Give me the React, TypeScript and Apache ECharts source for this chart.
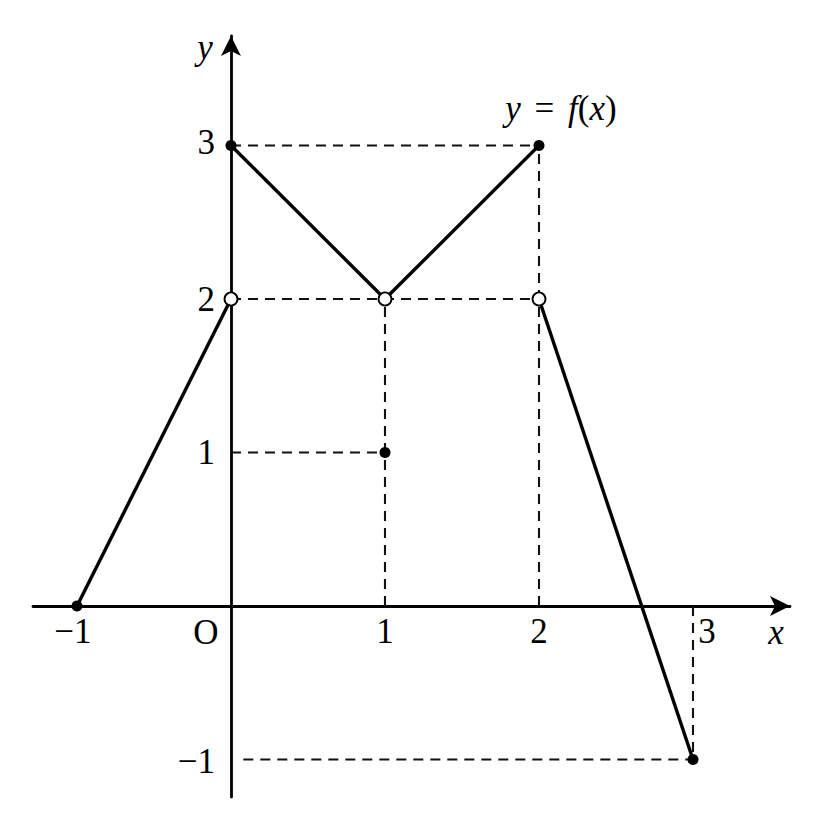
import React, { useEffect, useRef } from "react";
import * as echarts from "echarts";

// ---- data ----
// solid pieces of the graph of y = f(x)
const pieceA: [number, number][] = [[-1, 0], [0, 2]];
const pieceB: [number, number][] = [[0, 3], [1, 2], [2, 3]];
const pieceC: [number, number][] = [[2, 2], [3, -1]];
// filled (included) points and open (excluded) points
const filledPoints: [number, number][] = [[-1, 0], [0, 3], [1, 1], [2, 3], [3, -1]];
const openPoints: [number, number][] = [[0, 2], [1, 2], [2, 2]];
// dashed guide segments
const guides: [number, number][][] = [
  [[0, 3], [2, 3]],
  [[0, 2], [2, 2]],
  [[0, 1], [1, 1]],
  [[1, 0], [1, 2]],
  [[2, 0], [2, 3]],
  [[3, 0], [3, -1]],
  [[0.08, -1], [3, -1]],
];
// tick labels
const xTickValues = [-1, 1, 2, 3];
const xTickLabels = ["−1", "1", "2", "3"];
const yTickValues = [3, 2, 1, -1];
const yTickLabels = ["3", "2", "1", "−1"];
const originLabel = "O";
const xAxisName = "x";
const yAxisName = "y";
// visible axis extent (values)
const xRange = [-1.2857, 3.6299];
const yRange = [-1.2443, 3.7134];

const FONT = "'Liberation Serif', 'DejaVu Serif', serif";

export default function App() {
  const ref = useRef<HTMLDivElement>(null);
  useEffect(() => {
    if (!ref.current) return;
    const chart = echarts.init(ref.current, null, { renderer: "svg" });
    const solid = { color: "#000", width: 3.4, opacity: 1 };
    const lineSeries = (data: [number, number][]) => ({
      type: "line",
      data,
      symbol: "none",
      lineStyle: solid,
      z: 3,
      silent: true,
    });
    const labelStyle = { fontFamily: FONT, fontSize: 35, color: "#000" };
    const axisLine = {
      show: true,
      onZero: true,
      lineStyle: { color: "#000", width: 2.8 },
      symbol: ["none", "arrow"],
      symbolSize: [15, 20],
    };
    const option: any = {
      animation: false,
      backgroundColor: "#fff",
      grid: { left: 33, right: 30, top: 36, bottom: 23, containLabel: false },
      xAxis: {
        type: "value",
        min: xRange[0],
        max: xRange[1],
        axisLine,
        axisTick: { show: false },
        axisLabel: { show: false },
        splitLine: { show: false },
      },
      yAxis: {
        type: "value",
        min: yRange[0],
        max: yRange[1],
        axisLine,
        axisTick: { show: false },
        axisLabel: { show: false },
        splitLine: { show: false },
      },
      series: [
        ...guides.map((g) => ({
          type: "line",
          data: g,
          symbol: "none",
          lineStyle: { color: "#111", width: 2.1, type: [10, 7], opacity: 1 },
          z: 2,
          silent: true,
        })),
        lineSeries(pieceA),
        lineSeries(pieceB),
        lineSeries(pieceC),
        {
          type: "scatter",
          data: filledPoints,
          symbol: "circle",
          symbolSize: 11,
          itemStyle: { color: "#000", opacity: 1 },
          z: 5,
        },
        {
          type: "scatter",
          data: openPoints,
          symbol: "circle",
          symbolSize: 13,
          itemStyle: { color: "#fff", borderColor: "#000", borderWidth: 1.8, opacity: 1 },
          z: 6,
        },
        // x tick labels
        {
          type: "scatter",
          symbolSize: 0,
          itemStyle: { opacity: 1 },
          data: xTickValues.map((v, i) => ({
            value: [v, 0],
            label: {
              show: true,
              formatter: xTickLabels[i],
              position: "inside",
              offset: [v === -1 ? -4 : v === 3 ? 14 : 0, 25],
              ...labelStyle,
            },
          })),
          z: 7,
        },
        // y tick labels
        {
          type: "scatter",
          symbolSize: 0,
          itemStyle: { opacity: 1 },
          data: yTickValues.map((v, i) => ({
            value: [0, v],
            label: {
              show: true,
              formatter: yTickLabels[i],
              position: "inside",
              align: "right",
              offset: [-16, v === 3 ? -3 : v === -1 ? 2 : 0],
              ...labelStyle,
            },
          })),
          z: 7,
        },
        // origin, axis names, curve name
        {
          type: "scatter",
          symbolSize: 0,
          itemStyle: { opacity: 1 },
          data: [
            { value: [0, 0], label: { show: true, formatter: originLabel, position: "inside", offset: [-25, 26], ...labelStyle } },
            { value: [xRange[1], 0], label: { show: true, formatter: xAxisName, position: "inside", offset: [-14, 26], ...labelStyle, fontStyle: "italic" } },
            { value: [0, yRange[1]], label: { show: true, formatter: yAxisName, position: "inside", offset: [-26, 11], ...labelStyle, fontStyle: "italic" } },
            {
              value: [2, 3],
              label: {
                show: true,
                formatter: "{i|y} {s|=} {i|f}({i|x})",
                position: "inside",
                offset: [22, -37],
                ...labelStyle,
                rich: {
                  i: { ...labelStyle, fontStyle: "italic" },
                  s: { ...labelStyle, padding: [0, 5, 0, 5] },
                },
              },
            },
          ],
          z: 7,
        },
      ],
    };
    chart.setOption(option);
    return () => chart.dispose();
  }, []);
  return (
    <div
      ref={ref}
      style={{ position: "fixed", left: 0, top: 0, width: 820, height: 820, background: "#fff" }}
    />
  );
}
